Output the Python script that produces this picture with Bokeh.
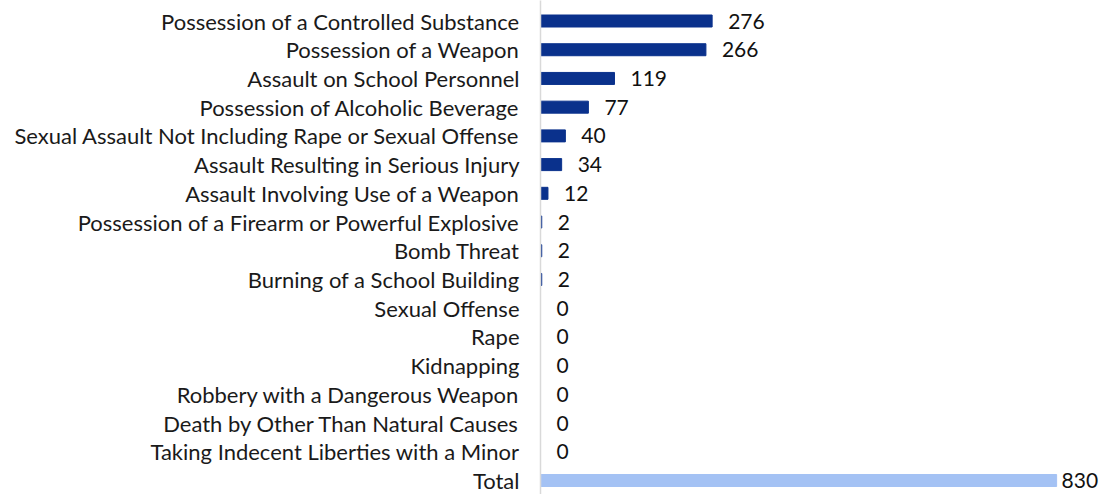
from bokeh.plotting import figure
from bokeh.models import Range1d, FixedTicker, ColumnDataSource
from bokeh.core.properties import value
from bokeh.embed import file_html
from bokeh.resources import INLINE

categories = [
    "Possession of a Controlled Substance",
    "Possession of a Weapon",
    "Assault on School Personnel",
    "Possession of Alcoholic Beverage",
    "Sexual Assault Not Including Rape or Sexual Offense",
    "Assault Resulting in Serious Injury",
    "Assault Involving Use of a Weapon",
    "Possession of a Firearm or Powerful Explosive",
    "Bomb Threat",
    "Burning of a School Building",
    "Sexual Offense",
    "Rape",
    "Kidnapping",
    "Robbery with a Dangerous Weapon",
    "Death by Other Than Natural Causes",
    "Taking Indecent Liberties with a Minor",
    "Total",
]
counts = [276, 266, 119, 77, 40, 34, 12, 2, 2, 2, 0, 0, 0, 0, 0, 0, 830]

FONT = "Lato"
DARK = "#0A318C"
LIGHT = "#A4C2F4"

n = len(categories)
pos = list(range(n))
colors = [LIGHT if c == "Total" else DARK for c in categories]
offsets = [5 if c == "Total" else 16 for c in categories]

src = ColumnDataSource(dict(
    y=pos, v=counts, color=colors, off=offsets,
    lab=[str(c) for c in counts],
))

H = 494
TOP, BOT = 20.5, 480.0
row_px = (BOT - TOP) / 16.0
y_end = -TOP / row_px
y_start = 16 + (H - BOT) / row_px

p = figure(width=1104, height=H, output_backend="svg", toolbar_location=None,
           x_range=Range1d(0, 907), y_range=Range1d(y_start, y_end),
           min_border_left=540, min_border_right=0, min_border_top=0, min_border_bottom=0)

p.hbar(y="y", right="v", left=0, height=12 / row_px, color="color", source=src)
p.text(x="v", y="y", text="lab", x_offset="off", source=src,
       text_baseline="middle", text_align="left",
       text_font=value(FONT), text_font_size="21px", text_color="#111111")

p.xaxis.visible = False
p.grid.visible = False
p.outline_line_color = None

ya = p.yaxis[0]
ya.ticker = FixedTicker(ticks=pos)
ya.major_label_overrides = {i: c for i, c in enumerate(categories)}
ya.major_tick_line_color = None
ya.minor_tick_line_color = None
ya.major_tick_out = 0
ya.major_tick_in = 0
ya.major_label_standoff = 21
ya.axis_line_color = "#D9D9D9"
ya.axis_line_width = 1.5
ya.major_label_text_font = FONT
ya.major_label_text_font_size = "22px"
ya.major_label_text_color = "#1a1a1a"

open("out.html", "w").write(file_html(p, INLINE))
